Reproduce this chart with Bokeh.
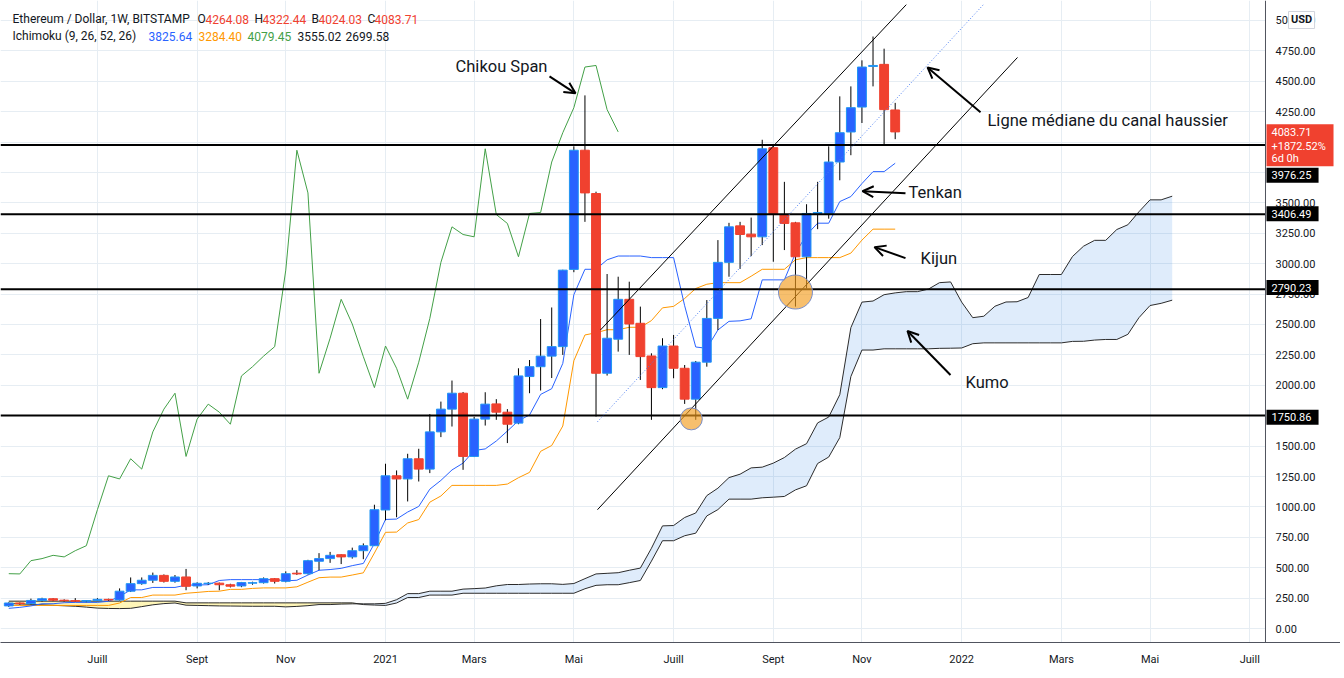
import numpy as np
from bokeh.plotting import figure
from bokeh.models import Range1d, FixedTicker, Span, Arrow, OpenHead
from bokeh.core.properties import value
from bokeh.embed import file_html
from bokeh.resources import INLINE

# ---------------- data (weekly candles, week index 0 = week of 2021-01-04) -------------
FIRST_WEEK = -34
opens = [186, 210, 204, 231, 245, 233, 229, 225, 230, 240,
         235, 307, 369, 397, 437, 388, 424, 350, 370, 373,
         360, 350, 373, 377, 410, 388, 455, 451, 553, 575,
         607, 589, 640, 681, 975, 1256, 1230, 1396, 1311, 1617,
         1804, 1935, 1415, 1722, 1847, 1779, 1689, 2072, 2153, 2240,
         2318, 2953, 3933, 3577, 2099, 2379, 2707, 2510, 2241, 1981,
         2323, 2140, 1886, 2190, 2550, 3011, 3311, 3243, 3221, 3954,
         3404, 3336, 3057, 3413, 3413, 3836, 4083, 4288, 4622, 4639, 4264.08]
highs = [216, 215, 246, 253, 250, 240, 250, 232, 250, 245,
         330, 420, 420, 460, 445, 440, 490, 380, 382, 378,
         368, 383, 385, 420, 415, 470, 480, 565, 620, 630,
         610, 665, 700, 1018, 1355, 1300, 1437, 1478, 1763, 1866,
         2039, 1945, 1740, 1943, 1886, 1804, 2140, 2208, 2545, 2640,
         2950, 3965, 4384, 3592, 2915, 2893, 2852, 2647, 2263, 2387,
         2414, 2167, 2200, 2701, 3194, 3336, 3344, 3379, 4019, 3970,
         3673, 3344, 3489, 3673, 3965, 4376, 4458, 4672, 4868, 4768, 4322.44]
lows = [178, 196, 197, 222, 225, 221, 218, 216, 225, 227,
        231, 300, 360, 375, 378, 377, 315, 330, 360, 315,
        338, 340, 360, 370, 370, 380, 440, 445, 480, 540,
        530, 575, 570, 680, 890, 915, 1045, 1209, 1278, 1574,
        1661, 1305, 1410, 1669, 1716, 1525, 1680, 1935, 1957, 2060,
        2250, 2930, 3344, 1743, 2080, 2277, 2250, 2044, 1716, 1968,
        2058, 1847, 1716, 2153, 2455, 2893, 2957, 3062, 3153, 3016,
        3112, 2647, 2797, 3284, 3370, 3686, 3892, 4157, 4458, 3976, 4024.03]
closes = [210, 204, 231, 245, 233, 229, 225, 230, 240, 235,
          307, 369, 397, 437, 388, 424, 347, 372, 373, 360,
          348, 378, 377, 410, 388, 451, 449, 558, 575, 602,
          589, 640, 681, 977, 1256, 1230, 1396, 1311, 1617, 1804,
          1935, 1415, 1722, 1845, 1779, 1680, 2077, 2153, 2240, 2318,
          2947, 3933, 3582, 2099, 2387, 2707, 2504, 2236, 1981, 2323,
          2140, 1886, 2190, 2550, 3011, 3303, 3240, 3221, 3945, 3404,
          3331, 3057, 3413, 3421, 3836, 4077, 4283, 4617, 4630, 4267, 4083.71]

# Ichimoku lines (same week index as the candles)
tenkan = [166, 174, 186, 204, 204, 212, 215, 215, 215, 224,
          263, 318, 318, 338, 338, 338, 357, 358, 360, 395,
          402, 402, 402, 402, 402, 392, 397, 440, 479, 485,
          495, 517, 535, 699, 897, 900, 958, 1004, 1146, 1218,
          1304, 1360, 1464, 1477, 1542, 1624, 1709, 1756, 1925, 1972,
          2180, 2745, 2954, 2954, 3032, 3063, 3063, 3063, 3050, 3050,
          3050, 2654, 2315, 2304, 2455, 2526, 2530, 2547, 2867, 2867,
          2867, 3086, 3237, 3333, 3333, 3511, 3552, 3659, 3757, 3757, 3826]
kijun = [190, 190, 190, 190, 190, 190, 190, 190, 190, 190,
         210, 255, 255, 275, 275, 275, 290, 297, 305, 307,
         322, 322, 330, 334, 334, 334, 343, 381, 418, 423,
         423, 440, 458, 621, 791, 793, 868, 896, 1039, 1090,
         1177, 1177, 1177, 1177, 1177, 1188, 1240, 1284, 1457, 1505,
         1665, 2202, 2414, 2432, 2457, 2457, 2477, 2477, 2532, 2637,
         2649, 2714, 2796, 2831, 2844, 2844, 2844, 2897, 2954, 2954,
         2954, 3032, 3050, 3050, 3050, 3050, 3087, 3194, 3284, 3284, 3284]
CHIKOU_SHIFT = 25
# leading spans, plotted from week -34 to week 71
senkou_a = [205, 202, 199, 195, 191, 187, 183, 176, 168, 165,
            164, 166, 180, 195, 205, 210, 192, 190, 188, 186,
            185, 184, 183, 183, 183, 178, 182, 188, 197, 197,
            201, 203, 203, 203, 207, 237, 287, 287, 307, 307,
            307, 324, 328, 333, 351, 362, 362, 366, 368, 368,
            363, 370, 410, 449, 454, 459, 479, 497, 660, 844,
            847, 913, 950, 1093, 1154, 1241, 1269, 1321, 1327, 1360,
            1406, 1475, 1520, 1691, 1739, 1923, 2474, 2684, 2693, 2745,
            2760, 2770, 2770, 2791, 2844, 2850, 2684, 2556, 2568, 2650,
            2685, 2687, 2722, 2911, 2911, 2911, 3059, 3144, 3192, 3192,
            3281, 3320, 3427, 3525, 3525, 3555]
senkou_b = [225, 225, 225, 225, 225, 225, 225, 225, 225, 225,
            225, 225, 225, 225, 225, 225, 211, 211, 211, 211,
            211, 211, 211, 211, 211, 211, 211, 211, 211, 211,
            211, 211, 197, 193, 190, 210, 255, 255, 275, 275,
            275, 290, 290, 290, 290, 290, 290, 290, 290, 290,
            290, 290, 327, 355, 360, 360, 377, 395, 554, 722,
            722, 763, 784, 926, 978, 1064, 1064, 1064, 1075, 1080,
            1086, 1140, 1174, 1357, 1410, 1570, 2072, 2290, 2290, 2300,
            2300, 2300, 2300, 2300, 2304, 2305, 2307, 2342, 2349, 2349,
            2349, 2349, 2349, 2349, 2349, 2349, 2361, 2362, 2372, 2377,
            2377, 2419, 2556, 2656, 2674, 2700]

# support / resistance levels
levels = [3976.25, 3406.49, 2790.23, 1750.86]

# x-axis ticks (first weekly bar of each month)
tick_weeks = [-26, -17, -9, 0, 8, 17, 26, 35, 43, 52, 61, 69, 78]
tick_names = ["Juill", "Sept", "Nov", "2021", "Mars", "Mai", "Juill",
              "Sept", "Nov", "2022", "Mars", "Mai", "Juill"]
price_ticks = list(range(0, 5001, 250))

# channel drawing (week, price)
chan_x0 = [19.4, 19.13]
chan_y0 = [2455, 977]
chan_x1 = [47.0, 57.04]
chan_y1 = [5130, 4696]
mid_x = [19.13, 53.97]
mid_y = [1700, 5131]

# highlight circles (week, price, diameter px)
circ_x = [37.0, 27.6]
circ_y = [2767, 1724]
circ_size = [34, 22]

# ---------------- figure ------------------------------------------------------------
RED = "#f0412f"
BLUE = "#2962ff"
DARK = "#131722"
SCALE_X = 79.42          # week index where the price scale begins
X_END = 86.19

p = figure(width=1340, height=668, output_backend="svg", toolbar_location=None, tools="",
           x_range=Range1d(-34.747, X_END), y_range=Range1d(-114.9, 5164.2),
           min_border_left=0, min_border_top=0, min_border_right=0, min_border_bottom=25,
           background_fill_color="white", border_fill_color="white",
           outline_line_color=None)
p.yaxis.visible = False
p.xaxis.ticker = FixedTicker(ticks=tick_weeks)
p.xaxis.major_label_overrides = {t: n for t, n in zip(tick_weeks, tick_names)}
p.xaxis.major_tick_line_color = None
p.xaxis.minor_tick_line_color = None
p.xaxis.axis_line_color = "#50535e"
p.xaxis.major_label_text_font = "Roboto"
p.xaxis.major_label_text_font_size = "11px"
p.xaxis.major_label_text_color = DARK
p.xaxis.major_label_standoff = 4
p.xgrid.grid_line_color = "#e6edf3"
p.ygrid.ticker = FixedTicker(ticks=price_ticks)
p.ygrid.grid_line_color = "#e6edf3"

# ---------------- kumo -------------------------------------------------------------
sa = np.array(senkou_a, dtype=float)
sb = np.array(senkou_b, dtype=float)
jx = np.arange(FIRST_WEEK, FIRST_WEEK + len(sa))
top = np.maximum(sa, sb)
p.varea(x=jx, y1=sb, y2=top, fill_color="#1e7ae6", fill_alpha=0.14)
p.varea(x=jx, y1=sa, y2=top, fill_color="#ffe94d", fill_alpha=0.4)
p.line(jx, sa, line_color="#2b2b2b", line_width=1)
p.line(jx, sb, line_color="#2b2b2b", line_width=1)

# ---------------- ichimoku lines ------------------------------------------------------
o = np.array(opens, dtype=float)
h = np.array(highs, dtype=float)
l = np.array(lows, dtype=float)
c = np.array(closes, dtype=float)
wx = np.arange(FIRST_WEEK, FIRST_WEEK + len(c))

cs = wx >= FIRST_WEEK + CHIKOU_SHIFT
p.line(wx[cs] - CHIKOU_SHIFT, c[cs], line_color="#43a047", line_width=1)
p.line(wx, kijun, line_color="#ff9800", line_width=1)
p.line(wx, tenkan, line_color=BLUE, line_width=1)

# ---------------- candles ------------------------------------------------------------
p.segment(x0=wx, y0=l, x1=wx, y1=h, line_color="black", line_width=1)
up = c >= o
p.vbar(x=wx[up], width=0.8, top=c[up], bottom=o[up], fill_color=BLUE, line_color="#2196f3")
p.vbar(x=wx[~up], width=0.8, top=o[~up], bottom=c[~up], fill_color=RED, line_color=RED)

# ---------------- drawings -------------------------------------------------------------
p.segment(x0=[-34.747] * len(levels), y0=levels, x1=[SCALE_X] * len(levels), y1=levels,
          line_color="black", line_width=2)

p.segment(x0=chan_x0, y0=chan_y0, x1=chan_x1, y1=chan_y1, line_color="black", line_width=1)
p.line(mid_x, mid_y, line_color="#4a7cf0", line_width=1, line_dash="1 2")

p.scatter(circ_x, circ_y, size=circ_size, marker="circle", fill_color="#f29d1f",
          fill_alpha=0.65, line_color="#7b8fc9", line_width=1)

arrows = [((14.80, 4540), (17.15, 4401)),
          ((53.70, 4245), (48.92, 4614)),
          ((46.93, 3580), (43.05, 3596)),
          ((46.93, 3046), (44.13, 3136)),
          ((50.99, 2085), (47.11, 2447))]
for (xs, ys), (xe, ye) in arrows:
    p.add_layout(Arrow(end=OpenHead(size=11, line_width=2, line_color="black"),
                       x_start=xs, y_start=ys, x_end=xe, y_end=ye,
                       line_color="black", line_width=2))

notes_x = [10.47, 54.33, 47.20, 48.29, 52.35]
notes_y = [4622, 4179, 3588, 3046, 2020]
notes_t = ["Chikou Span", "Ligne médiane du canal haussier", "Tenkan", "Kijun", "Kumo"]
notes_a = ["center", "left", "left", "left", "left"]
p.text(x=notes_x, y=notes_y, text=notes_t, text_align=notes_a, text_baseline="middle",
       text_font=value("Roboto"), text_font_size="16.5px", text_color=DARK)

# ---------------- header legend ------------------------------------------------------
hx = [-33.66, -16.97, -16.25, -11.82, -11.10, -6.68, -6.05, -1.62, -0.99,
      -33.66, -21.39, -16.88, -12.45, -7.94, -3.61]
hy = [5008] * 9 + [4869] * 6
ht = ["Ethereum / Dollar, 1W, BITSTAMP", "O", "4264.08", "H", "4322.44", "B", "4024.03", "C", "4083.71",
      "Ichimoku (9, 26, 52, 26)", "3825.64", "3284.40", "4079.45", "3555.02", "2699.58"]
hc = [DARK, DARK, RED, DARK, RED, DARK, RED, DARK, RED,
      DARK, BLUE, "#ff9800", "#43a047", DARK, DARK]
p.text(x=hx, y=hy, text=ht, text_color=hc, text_align="left", text_baseline="middle",
       text_font=value("Roboto"), text_font_size="12px")

# ---------------- price scale (right) -----------------------------------------------------
p.quad(left=SCALE_X, right=X_END + 1, bottom=-200, top=5300, fill_color="white", line_color=None)
p.add_layout(Span(location=SCALE_X, dimension="height", line_color="#50535e", line_width=1))
p.text(x=[80.32] * len(price_ticks), y=price_ticks, text=[f"{t:.2f}" for t in price_ticks],
       text_align="left", text_baseline="middle", text_font=value("Roboto"),
       text_font_size="11px", text_color=DARK)

# USD button
p.quad(left=[81.50], right=[83.85], bottom=[4934], top=[5074], fill_color="white",
       line_color="#d1d4dc", line_width=1)
p.text(x=[82.67], y=[5004], text=["USD"], text_align="center", text_baseline="middle",
       text_font=value("Roboto"), text_font_size="11px", text_font_style="bold", text_color=DARK)

# last-price tag
p.quad(left=[79.51], right=[85.56], bottom=[3801], top=[4146], fill_color=RED, line_color=None)
p.text(x=[79.96] * 3, y=[4080, 3966, 3867], text=["4083.71", "+1872.52%", "6d 0h"],
       text_align="left", text_baseline="middle", text_font=value("Roboto"),
       text_font_size="11px", text_color="white")

# level tags
tag_top = [3789, 3473, 2865, 1798]
tag_bot = [3666, 3350, 2742, 1675]
tag_mid = [3727, 3411, 2804, 1736]
p.quad(left=[79.51] * 4, right=[84.21] * 4, bottom=tag_bot, top=tag_top,
       fill_color="black", line_color=None)
p.text(x=[79.96] * 4, y=tag_mid, text=[f"{lv:.2f}" for lv in levels],
       text_align="left", text_baseline="middle", text_font=value("Roboto"),
       text_font_size="11px", text_color="white")

html = file_html(p, INLINE, title="Ethereum / Dollar, 1W")
open("out.html", "w").write(html)
